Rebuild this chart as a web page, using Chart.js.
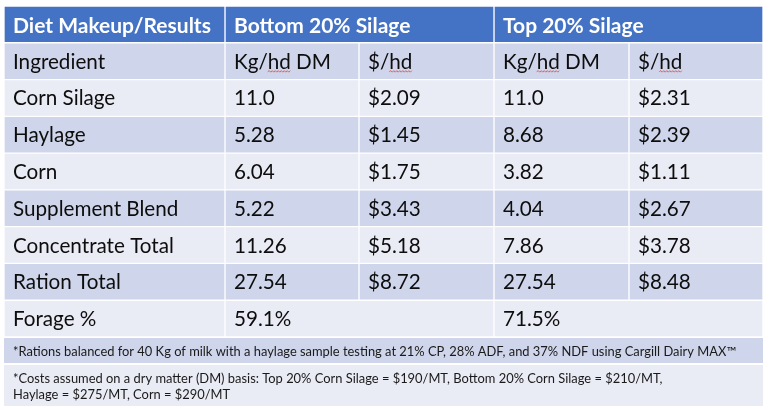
<!DOCTYPE html>
<html>
<head>
<meta charset="utf-8">
<style>
  html, body { margin: 0; padding: 0; background: #fff; }
  #wrap { width: 768px; height: 412px; position: relative; }
</style>
<script src="https://cdn.jsdelivr.net/npm/chart.js@4.4.1/dist/chart.umd.min.js"></script>
</head>
<body>
<div id="wrap"><canvas id="myChart"></canvas></div>
<script>
// table content
var headers = ["Diet Makeup/Results", "Bottom 20% Silage", "Top 20% Silage"];
var subHeaders = ["Ingredient", "Kg/hd DM", "$/hd", "Kg/hd DM", "$/hd"];
var ingredients = ["Corn Silage", "Haylage", "Corn", "Supplement Blend", "Concentrate Total", "Ration Total"];
var bottomKg = ["11.0", "5.28", "6.04", "5.22", "11.26", "27.54"];
var bottomCost = ["$2.09", "$1.45", "$1.75", "$3.43", "$5.18", "$8.72"];
var topKg = ["11.0", "8.68", "3.82", "4.04", "7.86", "27.54"];
var topCost = ["$2.31", "$2.39", "$1.11", "$2.67", "$3.78", "$8.48"];
var forageLabel = "Forage %";
var forage = ["59.1%", "71.5%"];
var note1 = "*Rations balanced for 40 Kg of milk with a haylage sample testing at 21% CP, 28% ADF, and 37% NDF using Cargill Dairy MAX™";
var note2 = ["*Costs assumed on a dry matter (DM) basis: Top 20% Corn Silage = $190/MT, Bottom 20% Corn Silage = $210/MT,",
             "Haylage = $275/MT, Corn = $290/MT"];

// layout (column edges in table units = px)
var colEdges = [0, 221, 355, 490, 625, 759];
var FONT = "Lato, 'Open Sans', sans-serif";

// build rows: each cell = {t: text, c: [firstCol, lastCol+1]}
var rows = [];
rows.push([{ t: headers[0], c: [0, 1] }, { t: headers[1], c: [1, 3] }, { t: headers[2], c: [3, 5] }]);
rows.push(subHeaders.map(function (s, i) { return { t: s, c: [i, i + 1] }; }));
ingredients.forEach(function (name, i) {
  var vals = [name, bottomKg[i], bottomCost[i], topKg[i], topCost[i]];
  rows.push(vals.map(function (s, k) { return { t: s, c: [k, k + 1] }; }));
});
rows.push([{ t: forageLabel, c: [0, 1] }, { t: forage[0], c: [1, 3] }, { t: forage[1], c: [3, 5] }]);

var rowKeys = rows.map(function (r) { return r[0].t; });

function rowColor(r) {
  if (r === 0) return "#4472C4";
  return r % 2 === 1 ? "#CFD5EA" : "#E9EBF5";
}

// one dataset per column slot; a merged cell lives in the slot where it starts
var datasets = [];
for (var k = 0; k < 5; k++) {
  datasets.push({
    data: rows.map(function (r) {
      var cell = r.find(function (c) { return c.c[0] === k; });
      return cell ? [colEdges[cell.c[0]], colEdges[cell.c[1]]] : null;
    }),
    backgroundColor: function (ctx) { return rowColor(ctx.dataIndex); },
    borderColor: "#ffffff",
    borderWidth: 1,
    borderSkipped: false,
    grouped: false,
    barPercentage: 1,
    categoryPercentage: 1
  });
}

function fitSize(ctx, weight, text, base, target) {
  ctx.font = weight + " " + base + "px " + FONT;
  return base * target / ctx.measureText(text).width;
}

function squiggle(ctx, x0, x1, y) {
  ctx.save();
  ctx.strokeStyle = "#e0403a";
  ctx.lineWidth = 0.8;
  ctx.beginPath();
  var up = true;
  ctx.moveTo(x0, y);
  for (var x = x0 + 1.5; x <= x1; x += 1.5) {
    ctx.lineTo(x, up ? y - 1 : y + 0.5);
    up = !up;
  }
  ctx.stroke();
  ctx.restore();
}

var tableText = {
  id: "tableText",
  afterDatasetsDraw: function (chart) {
    var ctx = chart.ctx;
    var xs = chart.scales.x, ys = chart.scales.y;
    var bodySize = fitSize(ctx, "normal", "Concentrate Total", 18, 161);
    var headSize = fitSize(ctx, "bold", "Diet Makeup/Results", 18, 198);
    ctx.save();
    ctx.textAlign = "left";
    ctx.textBaseline = "alphabetic";
    rows.forEach(function (r, ri) {
      var head = ri === 0;
      ctx.font = (head ? "bold " + headSize : "normal " + bodySize) + "px " + FONT;
      ctx.fillStyle = head ? "#ffffff" : "#0d0d0d";
      var capH = ctx.measureText("H").actualBoundingBoxAscent;
      var cy = ys.getPixelForValue(ri);
      var base = cy + capH / 2 + (head ? 1 : 0);
      r.forEach(function (cell) {
        var x = xs.getPixelForValue(colEdges[cell.c[0]]) + 9;
        ctx.fillText(cell.t, x, base);
        var at = cell.t.indexOf("hd");
        if (ri === 1 && at >= 0) {
          var sx = x + ctx.measureText(cell.t.slice(0, at)).width;
          squiggle(ctx, sx, sx + ctx.measureText("hd").width, base + 3);
        }
      });
    });

    // footnote rows under the table, spanning the full width
    var left = xs.getPixelForValue(colEdges[0]);
    var right = xs.getPixelForValue(colEdges[colEdges.length - 1]);
    var top = chart.chartArea.bottom;
    ctx.fillStyle = "#CFD5EA";
    ctx.fillRect(left, top + 1, right - left, 25);
    ctx.fillStyle = "#E9EBF5";
    ctx.fillRect(left, top + 28, right - left, 41);

    var noteSize = fitSize(ctx, "normal", note1, 12, 724);
    ctx.font = "normal " + noteSize + "px " + FONT;
    ctx.fillStyle = "#1a1a1a";
    var nCap = ctx.measureText("H").actualBoundingBoxAscent;
    ctx.fillText(note1, left + 9, top + 14 + nCap / 2);
    ctx.fillText(note2[0], left + 9, top + 41 + nCap / 2);
    ctx.fillText(note2[1], left + 9, top + 57 + nCap / 2);
    ctx.restore();
  }
};

var ctx = document.getElementById("myChart");
var myTable = new Chart(ctx, {
  type: "bar",
  data: { labels: rowKeys, datasets: datasets },
  options: {
    indexAxis: "y",
    responsive: true,
    maintainAspectRatio: false,
    animation: false,
    layout: { padding: { left: 4, right: 5, top: 6, bottom: 75 } },
    plugins: { legend: { display: false }, tooltip: { enabled: false } },
    scales: {
      x: { type: "linear", min: 0, max: 759, display: false },
      y: { type: "category", display: false }
    }
  },
  plugins: [tableText]
});
</script>
</body>
</html>
